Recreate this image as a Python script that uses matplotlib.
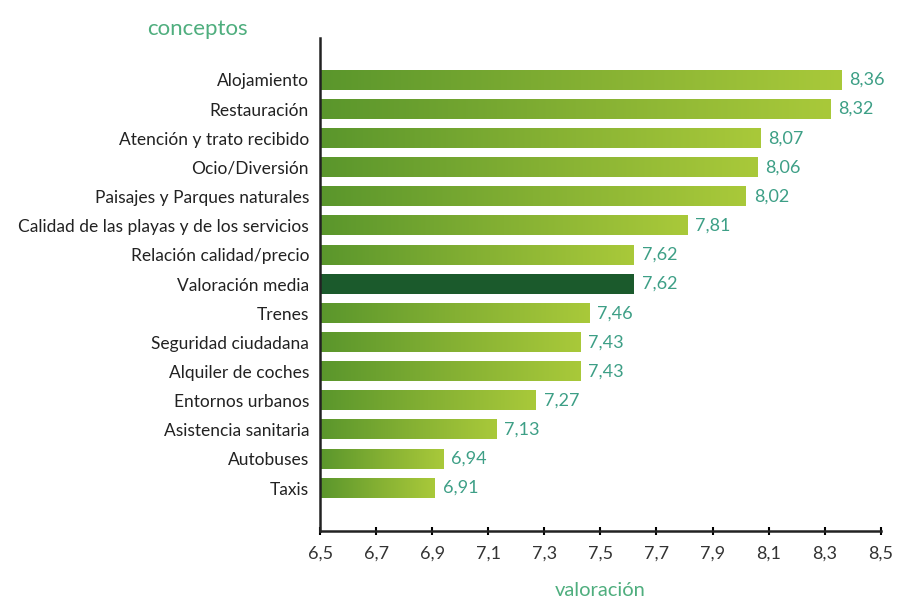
import matplotlib
matplotlib.use("Agg")
import matplotlib.pyplot as plt
import numpy as np
from matplotlib.colors import LinearSegmentedColormap

categories = ["Alojamiento", "Restauración", "Atención y trato recibido", "Ocio/Diversión",
              "Paisajes y Parques naturales", "Calidad de las playas y de los servicios",
              "Relación calidad/precio", "Valoración media", "Trenes", "Seguridad ciudadana",
              "Alquiler de coches", "Entornos urbanos", "Asistencia sanitaria", "Autobuses", "Taxis"]
values = [8.36, 8.32, 8.07, 8.06, 8.02, 7.81, 7.62, 7.62, 7.46, 7.43, 7.43, 7.27, 7.13, 6.94, 6.91]
highlight = "Valoración media"
xticks = [6.5, 6.7, 6.9, 7.1, 7.3, 7.5, 7.7, 7.9, 8.1, 8.3, 8.5]

plt.rcParams['font.family'] = ['Lato', 'DejaVu Sans']

fig = plt.figure(figsize=(9.07, 6.03), dpi=100)
ax = fig.add_axes([0.353, 0.119, 0.618, 0.818])

cmap = LinearSegmentedColormap.from_list("g", ["#5a962c", "#84b033", "#a9c93a"])
grad = np.linspace(0, 1, 256).reshape(1, -1)
h = 0.66
xmin = 6.5
for i, (c, v) in enumerate(zip(categories, values)):
    if c == highlight:
        ax.barh(i, v - xmin, left=xmin, height=h, color="#1b5a2c", zorder=2)
    else:
        ax.imshow(grad, cmap=cmap, aspect="auto", extent=[xmin, v, i + h / 2, i - h / 2],
                  zorder=2, interpolation="bilinear")
    ax.text(v + 0.027, i, f"{v:.2f}".replace(".", ","), va="center", ha="left",
            fontsize=13, color="#3d9f86")

ax.set_xlim(6.5, 8.5)
ax.set_ylim(15.48, -1.44)
ax.set_yticks(range(len(categories)))
ax.set_yticklabels(categories, fontsize=12.5, color="#222222")
ax.tick_params(axis="y", length=0, pad=8)
ax.set_xticks(xticks)
ax.set_xticklabels([f"{t:.1f}".replace(".", ",") for t in xticks], fontsize=13, color="#333333")
ax.tick_params(axis="x", direction="inout", length=6, width=1.5, pad=7)
for s in ["top", "right"]:
    ax.spines[s].set_visible(False)
for s in ["left", "bottom"]:
    ax.spines[s].set_linewidth(1.8)
    ax.spines[s].set_color("#222222")
ax.set_xlabel("valoración", fontsize=14.5, color="#4fae7e", labelpad=15)
fig.text(0.162, 0.952, "conceptos", fontsize=16, color="#4fae7e", ha="left", va="center")

fig.savefig("out.png", dpi=100)
